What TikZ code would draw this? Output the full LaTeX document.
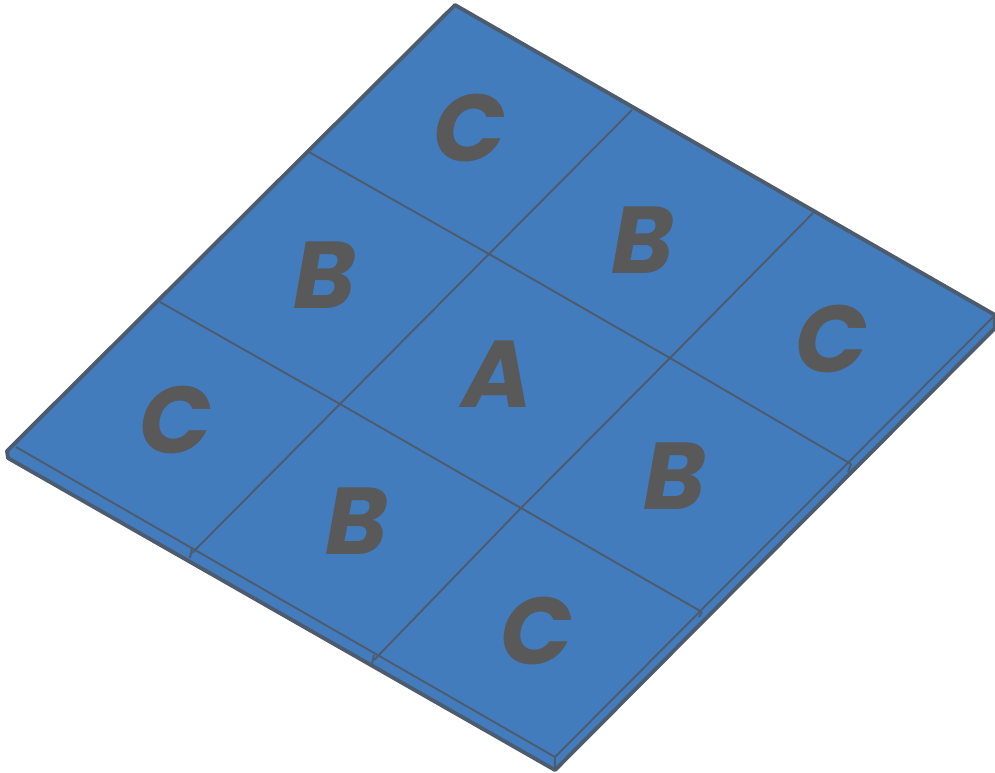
\documentclass[tikz,border=0pt]{standalone}
\usepackage{fontspec}
\setmainfont{Poppins}
\definecolor{plate}{HTML}{437CBD}
\definecolor{edge}{HTML}{4C5B6E}
\definecolor{letter}{HTML}{595959}
\tikzset{
  plate_face/.style={fill=plate,draw=edge,line width=1.1pt,line join=round},
  grid_line/.style={draw=edge,line width=0.55pt},
  cell_label/.style={font=\fontsize{27}{27}\selectfont\bfseries\itshape,text=letter,inner sep=0pt},
}
\begin{document}
\begin{tikzpicture}[x=0.01cm,y=-0.01cm]
  \useasboundingbox (0,0) rectangle (995,772);

  % plate outline and side faces
  \draw[plate_face] (455,5)--(995,315)--(995,328)--(555,770)--(8,458)--(7,451)--cycle;
  \draw[grid_line] (16,447)--(555,757)--(995,315);
  \draw[grid_line] (555,757)--(555,770);

  % tile borders
  \draw[grid_line] (309,152)--(489,254)--(670,358)--(851,464);
  \draw[grid_line] (160,302)--(340,404)--(521,508)--(702,612);
  \draw[grid_line] (632,110)--(489,254)--(340,404)--(192,553);
  \draw[grid_line] (813,213)--(670,358)--(521,508)--(374,660);

  % ticks on the rim
  \draw[grid_line] (192,548)--(190,558);
  \draw[grid_line] (374,655)--(372,664);
  \draw[grid_line] (702,612)--(699,617);
  \draw[grid_line] (851,464)--(848,472);

  % tile labels
  \node[cell_label] (c_top) at (470,128) {C};
  \node[cell_label] (b_left) at (325,275) {B};
  \node[cell_label] (b_top) at (643,240) {B};
  \node[cell_label] (c_left) at (176,420) {C};
  \node[cell_label] (a_mid) at (497,374) {A};
  \node[cell_label] (c_right) at (832,339) {C};
  \node[cell_label] (b_low) at (357,521) {B};
  \node[cell_label] (b_right) at (675,476) {B};
  \node[cell_label] (c_low) at (537,631) {C};
\end{tikzpicture}
\end{document}
